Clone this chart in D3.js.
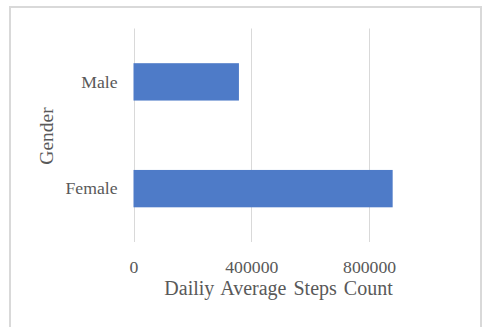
<!DOCTYPE html>
<html>
<head>
<meta charset="utf-8">
<script src="https://cdn.jsdelivr.net/npm/d3@7"></script>
<style>
  html, body { margin: 0; padding: 0; background: #fff; }
  svg { display: block; }
  text { font-family: "Liberation Serif", "Times New Roman", serif; fill: #595959; }
</style>
</head>
<body>
<svg id="chart" width="482" height="327"></svg>
<script>
// Daily average steps by gender
const categories = ["Male", "Female"];
const steps = [358000, 880000];
const tickValues = [0, 400000, 800000];

const W = 482, H = 327;
const margin = { left: 133.5, top: 28.5, right: 482 - 428, bottom: 327 - 242 };

const svg = d3.select("#chart");

// chart-area frame
svg.append("rect")
  .attr("x", 10).attr("y", 7)
  .attr("width", 471).attr("height", 340)
  .attr("fill", "#fff")
  .attr("stroke", "#d9d9d9")
  .attr("stroke-width", 2);

const x = d3.scaleLinear()
  .domain([0, 1000000])
  .range([margin.left, W - margin.right]);

const y = d3.scaleBand()
  .domain(categories)
  .range([margin.top, H - margin.bottom])
  .paddingInner(0.65)
  .paddingOuter(0.325);

// vertical gridlines
svg.append("g")
  .selectAll("line")
  .data(tickValues)
  .join("line")
  .attr("x1", d => Math.round(x(d)) + 0.5)
  .attr("x2", d => Math.round(x(d)) + 0.5)
  .attr("y1", margin.top)
  .attr("y2", H - margin.bottom)
  .attr("stroke", "#d9d9d9")
  .attr("stroke-width", 1);

// bars
svg.append("g")
  .selectAll("rect")
  .data(categories)
  .join("rect")
  .attr("x", x(0))
  .attr("y", d => y(d))
  .attr("width", (d, i) => x(steps[i]) - x(0))
  .attr("height", y.bandwidth())
  .attr("fill", "#4e7bc8");

// x axis tick labels
const xAxis = d3.axisBottom(x)
  .tickValues(tickValues)
  .tickFormat(d3.format("d"))
  .tickSize(0)
  .tickPadding(0);

const gx = svg.append("g")
  .attr("transform", `translate(0, 260)`)
  .call(xAxis);
gx.select(".domain").remove();
gx.selectAll("text")
  .attr("dy", null)
  .attr("y", 13)
  .style("font-size", "17.7px")
  .style("font-family", '"Liberation Serif", serif')
  .attr("fill", "#595959");

// y axis category labels
const yAxis = d3.axisLeft(y).tickSize(0).tickPadding(16);
const gy = svg.append("g")
  .attr("transform", `translate(${margin.left}, 0)`)
  .call(yAxis);
gy.select(".domain").remove();
gy.selectAll("text")
  .attr("dy", "0.33em")
  .style("font-size", "17.7px")
  .style("font-family", '"Liberation Serif", serif')
  .attr("fill", "#595959");

// axis titles
svg.append("text")
  .attr("x", 278.5)
  .attr("y", 295)
  .attr("text-anchor", "middle")
  .style("font-size", "20px")
  .style("word-spacing", "2px")
  .text("Dailiy Average Steps Count");

svg.append("text")
  .attr("transform", "translate(53, 136) rotate(-90)")
  .attr("text-anchor", "middle")
  .style("font-size", "19.5px")
  .text("Gender");
</script>
</body>
</html>
